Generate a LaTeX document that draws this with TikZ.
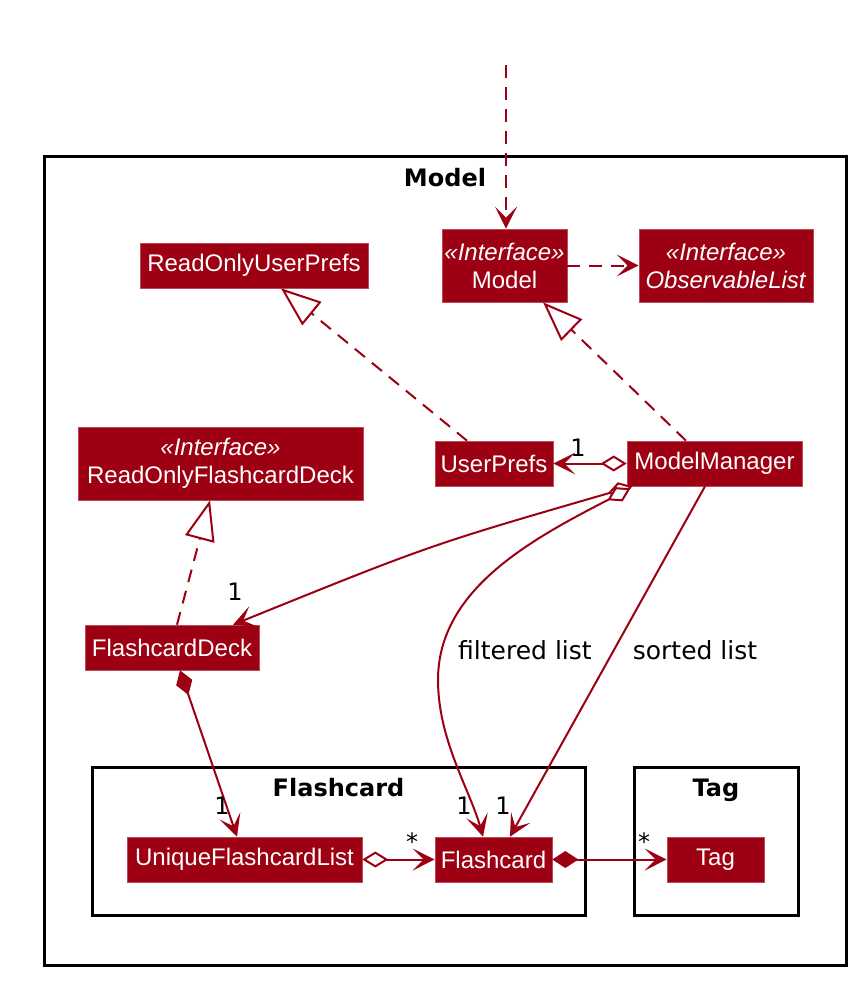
\documentclass[tikz,border=0pt]{standalone}
\usepackage{fontspec}
\usetikzlibrary{arrows.meta}
\newfontfamily\clsfont{Liberation Sans}
\newfontfamily\lblfont{DejaVu Sans}
\definecolor{mc}{HTML}{9D0012}
\begin{document}
\begin{tikzpicture}[x=1pt,y=-1pt,
  cls/.style={fill=mc, draw=mc!70!white, line width=0.6pt, text=white,
    font=\clsfont\fontsize{24}{28}\selectfont, inner sep=0pt, align=center, minimum height=45pt},
  pkg/.style={draw=black, line width=3pt, inner sep=0pt},
  ptitle/.style={font=\lblfont\bfseries\fontsize{24}{28}\selectfont, anchor=base},
  conn/.style={draw=mc, line width=2pt},
  hd/.tip={Stealth[length=22pt,width=22pt,inset=11pt]},
  dep/.style={conn, dash pattern=on 13pt off 9pt, -hd},
  real/.style={conn, dash pattern=on 13pt off 9pt, -{Triangle[open, length=40pt, width=30pt, fill=white]}},
  assoc/.style={conn, -hd},
  agg/.style={conn, {Diamond[open, length=26pt, width=16pt, fill=white]}-hd},
  comp/.style={conn, {Diamond[length=26pt, width=17pt]}-hd},
  lbl/.style={font=\lblfont\fontsize{25}{30}\selectfont, text=black},
  mult/.style={font=\lblfont\fontsize{24}{28}\selectfont, text=black, inner sep=0pt}
]
\useasboundingbox[fill=white] (0,0) rectangle (866,984);

% packages
\node[pkg, minimum width=802pt, minimum height=808pt] (pModel) at (445,561) {};
\node[ptitle] (tModel) at ([yshift=-31pt]pModel.north) {Model};
\node[pkg, minimum width=493pt, minimum height=148pt] (pFlash) at (338.5,841) {};
\node[ptitle] (tFlash) at ([yshift=-31pt]pFlash.north) {Flashcard};
\node[pkg, minimum width=164pt, minimum height=148pt] (pTag) at (716,841) {};
\node[ptitle] (tTag) at ([yshift=-31pt]pTag.north) {Tag};

% classes
\node[cls, minimum width=228pt] (roup) at (254,265.5) {ReadOnlyUserPrefs};
\node[cls, minimum width=125pt, minimum height=73pt] (model) at (504.5,265.5) {\textit{«Interface»}\\Model};
\node[cls, minimum width=174pt, minimum height=73pt] (obs) at (726,265.5) {\textit{«Interface»}\\\textit{ObservableList}};
\node[cls, minimum width=118pt] (uprefs) at (494,463.5) {UserPrefs};
\node[cls, minimum width=175pt] (mm) at (714.5,463.5) {ModelManager};
\node[cls, minimum width=285pt, minimum height=73pt] (rofd) at (220.5,463.5) {\textit{«Interface»}\\ReadOnlyFlashcardDeck};
\node[cls, minimum width=174pt] (fd) at (172,647.5) {FlashcardDeck};
\node[cls, minimum width=235pt] (ufl) at (244.5,859.5) {UniqueFlashcardList};
\node[cls, minimum width=117pt] (fc) at (493.5,859.5) {Flashcard};
\node[cls, minimum width=97pt] (tag) at (715.5,859.5) {Tag};

% connectors
\coordinate (src) at (506,65);
\draw[dep] (src) -- (src |- model.north);
\draw[dep] (model.east) -- (obs.west);
\draw[real] ([xshift=-27pt]uprefs.north) -- ([xshift=27pt]roup.south);
\draw[real] ([xshift=-28.5pt]mm.north) -- ([xshift=38.5pt]model.south);
\draw[real] ([xshift=5pt]fd.north) -- ([xshift=-10.5pt]rofd.south);
\draw[agg] (mm.west) -- (uprefs.east);
\draw[agg] ([xshift=-82pt]mm.south) .. controls (430,545) .. ([xshift=61pt]fd.north);
\draw[agg] ([xshift=-84pt,yshift=-2pt]mm.south) .. controls (530,540) and (438,590) .. (438,680)
   .. controls (438,740) and (470,790) .. ([xshift=-10.5pt]fc.north);
\draw[assoc] ([xshift=-9.5pt]mm.south) -- ([xshift=16.5pt]fc.north);
\draw[comp] ([xshift=8pt]fd.south) -- ([xshift=-7.5pt]ufl.north);
\draw[agg] (ufl.east) -- (fc.west);
\draw[comp] (fc.east) -- (tag.west);

% labels
\node[lbl] (lf) at (525,650) {filtered list};
\node[lbl] (ls) at (695,650) {sorted list};
\node[mult] (m1) at (578,448) {1};
\node[mult] (m2) at (235,592) {1};
\node[mult] (m3) at (222,806) {1};
\node[mult] (m4) at (464,806) {1};
\node[mult] (m5) at (503,806) {1};
\node[mult] (m6) at (412,842) {*};
\node[mult] (m7) at (644,842) {*};
\end{tikzpicture}
\end{document}
